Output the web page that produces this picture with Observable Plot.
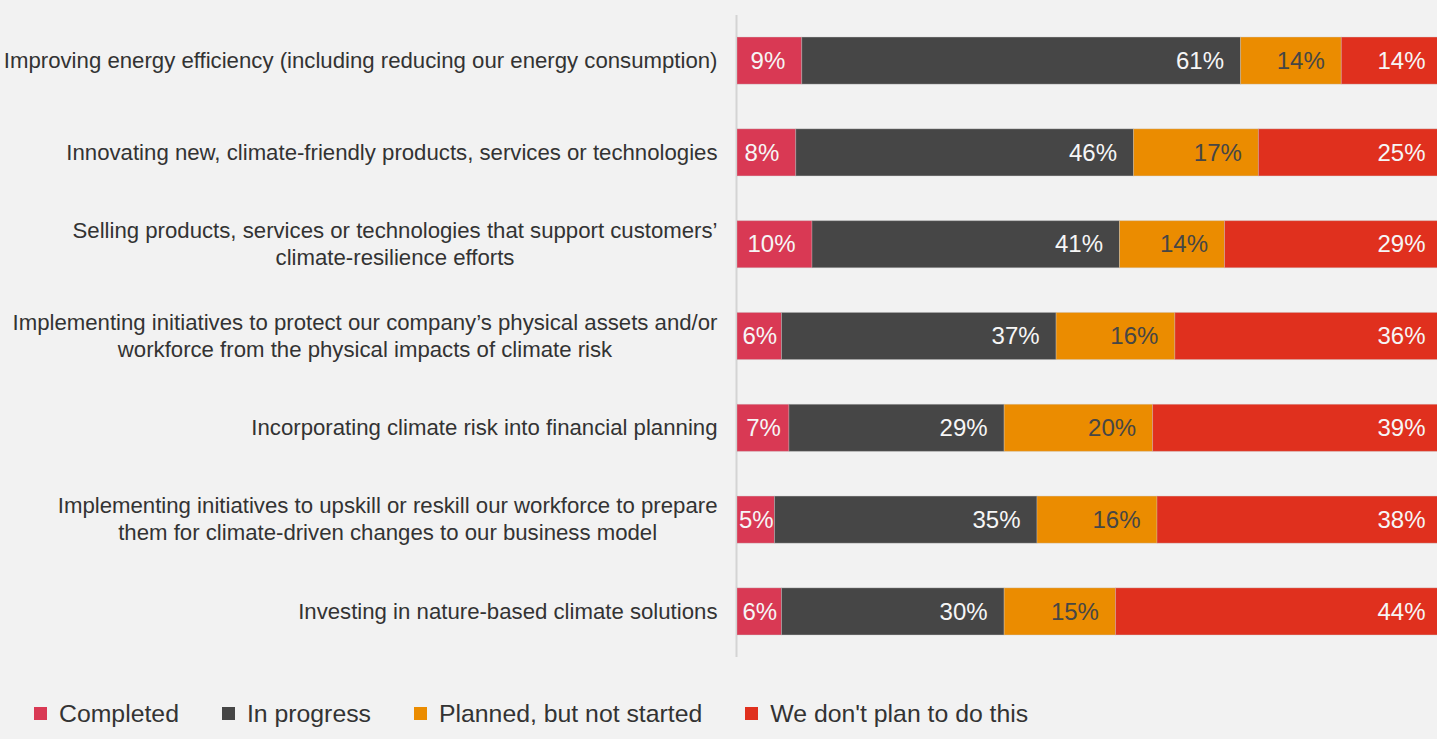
<!DOCTYPE html>
<html>
<head>
<meta charset="utf-8">
<script src="https://cdn.jsdelivr.net/npm/d3@7"></script>
<script src="https://cdn.jsdelivr.net/npm/@observablehq/plot@0.6"></script>
<style>
  html, body { margin: 0; padding: 0; background: #f2f2f2; overflow: hidden; }
  #chart { width: 1437px; overflow: hidden; }
  .lg-swatches { font-family: "Liberation Sans", Arial, sans-serif !important; font-size: 24.8px !important; color: #333 !important; margin: 37px 0 0 34px !important; }
  .lg-swatch { margin-right: 43px !important; }
  .lg-swatch > svg { margin-right: 12px !important; }
</style>
</head>
<body>
<div id="chart"></div>
<script>
const tasks = [
  "Improving energy efficiency (including reducing our energy consumption)",
  "Innovating new, climate-friendly products, services or technologies",
  "Selling products, services or technologies that support customers’\nclimate-resilience efforts",
  "Implementing initiatives to protect our company’s physical assets and/or\nworkforce from the physical impacts of climate risk",
  "Incorporating climate risk into financial planning",
  "Implementing initiatives to upskill or reskill our workforce to prepare\nthem for climate-driven changes to our business model",
  "Investing in nature-based climate solutions"
];
const statuses = ["Completed", "In progress", "Planned, but not started", "We don't plan to do this"];
const completed  = [9, 8, 10, 6, 7, 5, 6];
const inProgress = [61, 46, 41, 37, 29, 35, 30];
const planned    = [14, 17, 14, 16, 20, 16, 15];
const noPlan     = [14, 25, 29, 36, 39, 38, 44];
const colors = ["#d93954", "#464646", "#eb8c00", "#e0301e"];
const labelColors = ["#f6f6f6", "#f6f6f6", "#464646", "#f6f6f6"];

const series = [completed, inProgress, planned, noPlan];
const data = [];
tasks.forEach((t, i) => {
  const total = series.reduce((s, arr) => s + arr[i], 0);
  statuses.forEach((s, j) => {
    data.push({task: t, status: s, value: series[j][i], share: series[j][i] / total, label: labelColors[j]});
  });
});

const font = "Liberation Sans, Arial, sans-serif";
const isNarrow = d => d.share < 0.08;

const chart = Plot.plot({
  width: 1437,
  height: 660,
  marginLeft: 737,
  marginRight: -5,
  marginTop: 15,
  marginBottom: 3,
  style: {background: "#f2f2f2", fontFamily: font, overflow: "hidden"},
  x: {axis: null, domain: [0, 1]},
  y: {domain: tasks, paddingInner: 0.487, paddingOuter: 0.24, round: false, label: null},
  color: {domain: statuses, range: colors},
  marks: [
    Plot.ruleX([0], {stroke: "#d4d4d4", strokeWidth: 2, dx: -1}),
    Plot.barX(data, Plot.stackX({offset: "normalize", x: "value", y: "task", fill: "status", z: "status", stroke: "#c8c8c8", strokeOpacity: 0.35, strokeWidth: 1})),
    Plot.text(data, Plot.stackX2({offset: "normalize", x: "value", y: "task", z: "status",
      text: d => isNarrow(d) ? null : d.value + "%", fill: "label", textAnchor: "end", dx: -17, fontSize: 24, fontFamily: font, clip: true})),
    Plot.text(data, Plot.stackX({offset: "normalize", x: "value", y: "task", z: "status",
      text: d => isNarrow(d) ? d.value + "%" : null, fill: "label", textAnchor: "middle", fontSize: 24, fontFamily: font, clip: true})),
    Plot.axisY({tickSize: 0, tickPadding: 20, fontSize: 22.2, fill: "#333", fontFamily: font, lineHeight: 1.22, dy: -2, label: null})
  ]
});

document.getElementById("chart").appendChild(chart);

// center multi-line labels as blocks (lines centered under each other)
chart.querySelectorAll('[aria-label="y-axis tick label"] text').forEach(text => {
  const tspans = Array.from(text.querySelectorAll("tspan"));
  if (tspans.length > 1) {
    const widths = tspans.map(t => t.getComputedTextLength());
    const w = Math.max(...widths);
    tspans.forEach((t, i) => t.setAttribute("dx", -(w - widths[i]) / 2));
  }
});

const legend = Plot.legend({
  color: {domain: statuses, range: colors},
  legend: "swatches",
  swatchSize: 13,
  className: "lg"
});
document.getElementById("chart").appendChild(legend);
</script>
</body>
</html>
